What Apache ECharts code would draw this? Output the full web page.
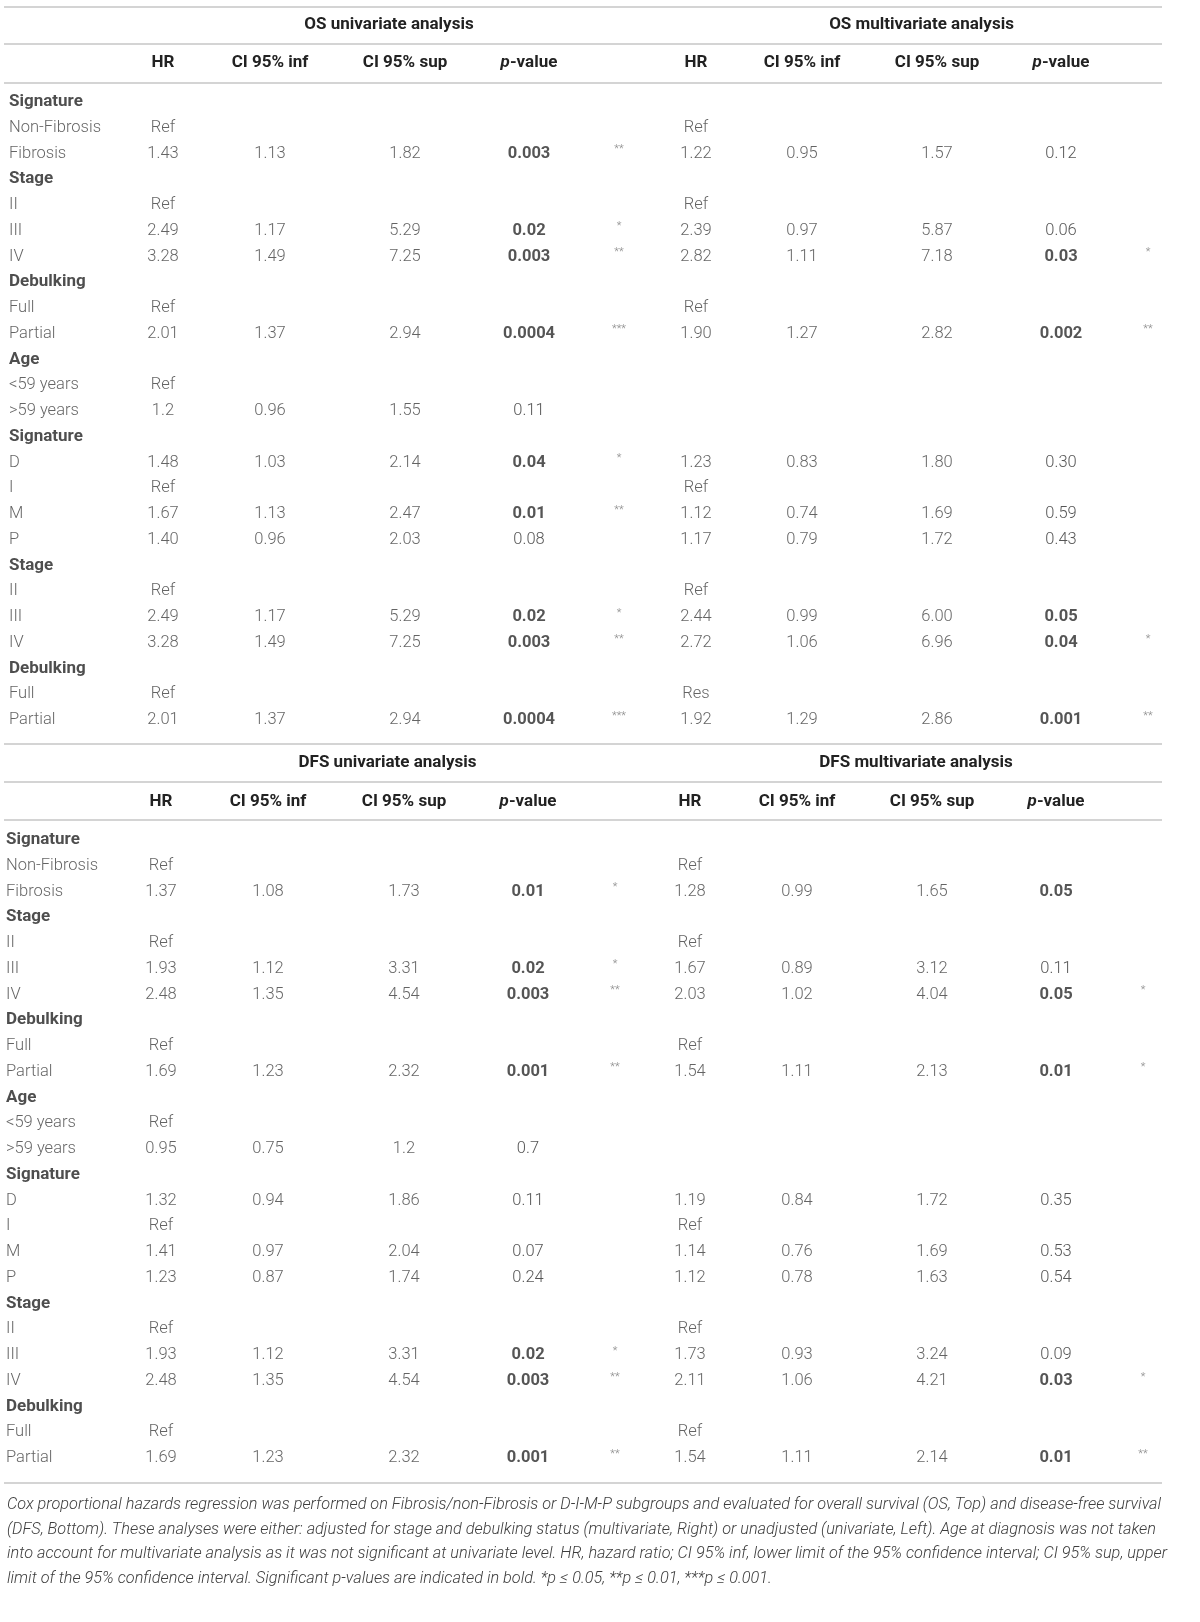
<!DOCTYPE html>
<html>
<head>
<meta charset="utf-8">
<script src="https://cdn.jsdelivr.net/npm/echarts@6/dist/echarts.min.js"></script>
<style>
  html, body { margin: 0; padding: 0; background: #fff; }
  #main { width: 1200px; height: 1622px; }
</style>
</head>
<body>
<div id="main"></div>
<script>
// row labels (same for the OS block and the DFS block)
var rowLabels = ['Signature', 'Non-Fibrosis', 'Fibrosis', 'Stage', 'II', 'III', 'IV', 'Debulking', 'Full', 'Partial',
  'Age', '<59 years', '>59 years', 'Signature', 'D', 'I', 'M', 'P', 'Stage', 'II', 'III', 'IV', 'Debulking', 'Full', 'Partial'];
var groupNames = ['Signature', 'Stage', 'Debulking', 'Age'];
var colHeads = ['HR', 'CI 95% inf', 'CI 95% sup', 'p-value'];

// ===== OS univariate =====
var osUniHR   = ['', 'Ref', '1.43', '', 'Ref', '2.49', '3.28', '', 'Ref', '2.01', '', 'Ref', '1.2', '', '1.48', 'Ref', '1.67', '1.40', '', 'Ref', '2.49', '3.28', '', 'Ref', '2.01'];
var osUniInf  = ['', '', '1.13', '', '', '1.17', '1.49', '', '', '1.37', '', '', '0.96', '', '1.03', '', '1.13', '0.96', '', '', '1.17', '1.49', '', '', '1.37'];
var osUniSup  = ['', '', '1.82', '', '', '5.29', '7.25', '', '', '2.94', '', '', '1.55', '', '2.14', '', '2.47', '2.03', '', '', '5.29', '7.25', '', '', '2.94'];
var osUniP    = ['', '', '0.003', '', '', '0.02', '0.003', '', '', '0.0004', '', '', '0.11', '', '0.04', '', '0.01', '0.08', '', '', '0.02', '0.003', '', '', '0.0004'];
var osUniStar = ['', '', '**', '', '', '*', '**', '', '', '***', '', '', '', '', '*', '', '**', '', '', '', '*', '**', '', '', '***'];

// ===== OS multivariate =====
var osMulHR   = ['', 'Ref', '1.22', '', 'Ref', '2.39', '2.82', '', 'Ref', '1.90', '', '', '', '', '1.23', 'Ref', '1.12', '1.17', '', 'Ref', '2.44', '2.72', '', 'Res', '1.92'];
var osMulInf  = ['', '', '0.95', '', '', '0.97', '1.11', '', '', '1.27', '', '', '', '', '0.83', '', '0.74', '0.79', '', '', '0.99', '1.06', '', '', '1.29'];
var osMulSup  = ['', '', '1.57', '', '', '5.87', '7.18', '', '', '2.82', '', '', '', '', '1.80', '', '1.69', '1.72', '', '', '6.00', '6.96', '', '', '2.86'];
var osMulP    = ['', '', '0.12', '', '', '0.06', '0.03', '', '', '0.002', '', '', '', '', '0.30', '', '0.59', '0.43', '', '', '0.05', '0.04', '', '', '0.001'];
var osMulStar = ['', '', '', '', '', '', '*', '', '', '**', '', '', '', '', '', '', '', '', '', '', '', '*', '', '', '**'];

// ===== DFS univariate =====
var dfsUniHR   = ['', 'Ref', '1.37', '', 'Ref', '1.93', '2.48', '', 'Ref', '1.69', '', 'Ref', '0.95', '', '1.32', 'Ref', '1.41', '1.23', '', 'Ref', '1.93', '2.48', '', 'Ref', '1.69'];
var dfsUniInf  = ['', '', '1.08', '', '', '1.12', '1.35', '', '', '1.23', '', '', '0.75', '', '0.94', '', '0.97', '0.87', '', '', '1.12', '1.35', '', '', '1.23'];
var dfsUniSup  = ['', '', '1.73', '', '', '3.31', '4.54', '', '', '2.32', '', '', '1.2', '', '1.86', '', '2.04', '1.74', '', '', '3.31', '4.54', '', '', '2.32'];
var dfsUniP    = ['', '', '0.01', '', '', '0.02', '0.003', '', '', '0.001', '', '', '0.7', '', '0.11', '', '0.07', '0.24', '', '', '0.02', '0.003', '', '', '0.001'];
var dfsUniStar = ['', '', '*', '', '', '*', '**', '', '', '**', '', '', '', '', '', '', '', '', '', '', '*', '**', '', '', '**'];

// ===== DFS multivariate =====
var dfsMulHR   = ['', 'Ref', '1.28', '', 'Ref', '1.67', '2.03', '', 'Ref', '1.54', '', '', '', '', '1.19', 'Ref', '1.14', '1.12', '', 'Ref', '1.73', '2.11', '', 'Ref', '1.54'];
var dfsMulInf  = ['', '', '0.99', '', '', '0.89', '1.02', '', '', '1.11', '', '', '', '', '0.84', '', '0.76', '0.78', '', '', '0.93', '1.06', '', '', '1.11'];
var dfsMulSup  = ['', '', '1.65', '', '', '3.12', '4.04', '', '', '2.13', '', '', '', '', '1.72', '', '1.69', '1.63', '', '', '3.24', '4.21', '', '', '2.14'];
var dfsMulP    = ['', '', '0.05', '', '', '0.11', '0.05', '', '', '0.01', '', '', '', '', '0.35', '', '0.53', '0.54', '', '', '0.09', '0.03', '', '', '0.01'];
var dfsMulStar = ['', '', '', '', '', '', '*', '', '', '*', '', '', '', '', '', '', '', '', '', '', '', '*', '', '', '**'];

var footnote = [
  'Cox proportional hazards regression was performed on Fibrosis/non-Fibrosis or D-I-M-P subgroups and evaluated for overall survival (OS, Top) and disease-free survival',
  '(DFS, Bottom). These analyses were either: adjusted for stage and debulking status (multivariate, Right) or unadjusted (univariate, Left). Age at diagnosis was not taken',
  'into account for multivariate analysis as it was not significant at univariate level. HR, hazard ratio; CI 95% inf, lower limit of the 95% confidence interval; CI 95% sup, upper',
  'limit of the 95% confidence interval. Significant p-values are indicated in bold. *p \u2264 0.05, **p \u2264 0.01, ***p \u2264 0.001.'
];

// ---------- layout (pixel positions) ----------
var FONT = 'Roboto';
var TXT = '#3d3d3d';
var RULE = '#d4d4d4';
var BODY = 16.5, HEAD = 17;
var blocks = [
  { name: 'OS', labelX: 9, uni: [163, 270, 405, 529, 619], mul: [696, 802, 937, 1061, 1148],
    top: 89, bottom: 889, rules: [7, 44, 83, 744], headY: 25, colY: 63,
    data: [[osUniHR, osUniInf, osUniSup, osUniP, osUniStar], [osMulHR, osMulInf, osMulSup, osMulP, osMulStar]] },
  { name: 'DFS', labelX: 6, uni: [161, 268, 404, 528, 615], mul: [690, 797, 932, 1056, 1143],
    top: 827, bottom: 151, rules: [782, 820, 1483], headY: 763, colY: 802,
    data: [[dfsUniHR, dfsUniInf, dfsUniSup, dfsUniP, dfsUniStar], [dfsMulHR, dfsMulInf, dfsMulSup, dfsMulP, dfsMulStar]] }
];

var grids = [], xAxes = [], yAxes = [], series = [], graphics = [];

function textSeries(gi, x, arr, kind) {
  var pts = [];
  arr.forEach(function (t, i) {
    if (!t) return;
    var lab = {};
    if (kind === 'p' && parseFloat(t) <= 0.05) lab.fontWeight = 'bold';
    if (kind === 'row' && groupNames.indexOf(t) >= 0) { lab.fontWeight = 'bold'; lab.fontSize = HEAD; lab.color = '#222'; }
    pts.push({ name: t, value: [x, i], label: lab });
  });
  var label = {
    show: true, formatter: '{b}', fontFamily: FONT, fontSize: BODY, fontWeight: 300, color: TXT,
    position: 'inside', align: 'center', verticalAlign: 'middle'
  };
  if (kind === 'row') { label.align = 'left'; }
  if (kind === 'p') { label.color = '#2a2a2a'; }
  if (kind === 'star') { label.fontSize = 11; label.color = '#6e6e6e'; label.offset = [0, -4]; }
  series.push({
    type: 'scatter', xAxisIndex: gi, yAxisIndex: gi, symbolSize: 1,
    itemStyle: { color: 'rgba(0,0,0,0)' }, silent: true, label: label, data: pts
  });
}

blocks.forEach(function (b, gi) {
  grids.push({ left: 0, right: 0, top: b.top, bottom: b.bottom });
  xAxes.push({ type: 'value', gridIndex: gi, min: 0, max: 1200, show: false });
  yAxes.push({ type: 'category', gridIndex: gi, inverse: true, show: false,
    data: rowLabels.map(function (_, i) { return i; }) });

  textSeries(gi, b.labelX, rowLabels, 'row');
  [b.uni, b.mul].forEach(function (cols, k) {
    var d = b.data[k];
    textSeries(gi, cols[0], d[0], 'num');
    textSeries(gi, cols[1], d[1], 'num');
    textSeries(gi, cols[2], d[2], 'num');
    textSeries(gi, cols[3], d[3], 'p');
    textSeries(gi, cols[4], d[4], 'star');
    // column headers
    colHeads.forEach(function (h, j) {
      graphics.push({ type: 'text', x: cols[j], y: b.colY, silent: true,
        style: { text: h === 'p-value' ? '{i|p}-value' : h, fill: '#222', fontFamily: FONT,
          fontSize: HEAD, fontWeight: 'bold', textAlign: 'center', textVerticalAlign: 'middle',
          rich: { i: { fontStyle: 'italic', fontWeight: 'bold', fontFamily: FONT, fontSize: HEAD, fill: '#222' } } } });
    });
    // group header
    graphics.push({ type: 'text', x: (cols[0] + cols[3]) / 2 + 43, y: b.headY, silent: true,
      style: { text: b.name + (k === 0 ? ' univariate analysis' : ' multivariate analysis'), fill: '#222',
        fontFamily: FONT, fontSize: HEAD, fontWeight: 'bold', textAlign: 'center', textVerticalAlign: 'middle' } });
  });
  b.rules.forEach(function (y) {
    graphics.push({ type: 'line', silent: true, shape: { x1: 4, y1: y, x2: 1162, y2: y },
      style: { stroke: RULE, lineWidth: 2 } });
  });
});

footnote.forEach(function (line, i) {
  graphics.push({ type: 'text', x: 7, y: 1505 + i * 24.5, silent: true,
    style: { text: line, fill: TXT, fontFamily: FONT, fontSize: 16.3, fontWeight: 300, fontStyle: 'italic',
      textAlign: 'left', textVerticalAlign: 'middle' } });
});

var chart = echarts.init(document.getElementById('main'), null, { renderer: 'canvas' });
chart.setOption({
  animation: false,
  backgroundColor: '#fff',
  grid: grids,
  xAxis: xAxes,
  yAxis: yAxes,
  series: series,
  graphic: graphics
});
</script>
</body>
</html>
